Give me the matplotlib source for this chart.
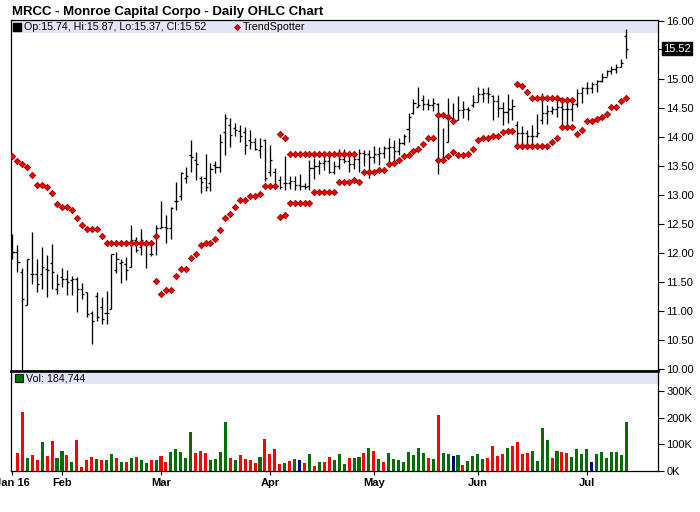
import matplotlib
matplotlib.use("Agg")
import matplotlib.pyplot as plt
from matplotlib.patches import Rectangle
import numpy as np

plt.rcParams['font.family'] = ['Liberation Sans', 'DejaVu Sans']

title = "MRCC - Monroe Capital Corpo - Daily OHLC Chart"

# daily OHLC, Jan 15 2016 .. Jul 14 2016 (one entry per trading day)
highs = [12.32, 12.14, 11.75, 11.90, 12.36, 11.90, 12.10, 11.97, 12.15, 11.64,
         11.74, 11.70, 11.60, 11.59, 11.49, 11.32, 11.00, 11.33, 11.25, 11.35,
         11.98, 12.01, 11.90, 11.93, 12.48, 12.27, 12.41, 12.20, 12.20, 12.49,
         12.90, 12.66, 12.79, 13.23, 13.40, 13.49, 13.95, 13.75, 13.33, 13.71,
         13.55, 13.59, 14.05, 14.40, 14.32, 14.25, 14.21, 14.18, 14.12, 13.98,
         13.99, 13.96, 13.86, 13.46, 13.32, 13.67, 13.32, 13.32, 13.36, 13.20,
         13.60, 13.63, 13.60, 13.72, 13.72, 13.59, 13.80, 13.79, 13.72, 13.75,
         13.80, 13.78, 13.78, 13.85, 13.82, 13.85, 13.98, 13.95, 13.98, 14.05,
         14.42, 14.65, 14.86, 14.72, 14.65, 14.67, 14.58, 14.15, 14.68, 14.58,
         14.71, 14.62, 14.51, 14.72, 14.86, 14.84, 14.87, 14.72, 14.72, 14.61,
         14.74, 14.65, 14.28, 14.19, 14.12, 14.21, 14.39, 14.75, 14.55, 14.53,
         14.68, 14.64, 14.64, 14.61, 14.83, 14.87, 14.94, 14.95, 14.98, 15.11,
         15.15, 15.22, 15.25, 15.34, 15.87]
lows = [11.89, 11.68, 9.98, 11.11, 11.47, 11.32, 11.38, 11.25, 11.38, 11.30,
        11.42, 11.27, 11.27, 10.99, 11.20, 10.90, 10.44, 10.82, 10.77, 10.77,
        11.03, 11.65, 11.49, 11.53, 11.76, 12.02, 11.97, 11.74, 11.95, 11.97,
        12.43, 12.17, 12.25, 12.74, 12.91, 13.20, 13.39, 13.26, 13.04, 13.07,
        13.07, 13.38, 13.40, 13.69, 13.83, 14.01, 13.92, 13.70, 13.79, 13.78,
        13.63, 13.25, 13.32, 13.10, 13.10, 13.09, 13.10, 13.09, 13.09, 13.10,
        13.09, 13.28, 13.36, 13.43, 13.38, 13.36, 13.44, 13.55, 13.39, 13.44,
        13.39, 13.50, 13.29, 13.55, 13.52, 13.63, 13.59, 13.55, 13.69, 13.86,
        13.92, 14.39, 14.51, 14.47, 14.47, 14.45, 13.37, 13.57, 13.92, 14.29,
        14.29, 14.32, 14.30, 14.52, 14.60, 14.60, 14.59, 14.29, 14.35, 14.21,
        14.24, 14.29, 13.80, 13.80, 13.82, 13.83, 14.00, 14.22, 14.22, 14.40,
        14.34, 14.18, 14.21, 14.27, 14.52, 14.59, 14.74, 14.75, 14.78, 14.95,
        15.05, 15.09, 15.11, 15.20, 15.37]
opens = [12.30, 12.01, 11.68, 11.11, 11.64, 11.64, 11.64, 11.73, 11.82, 11.38,
         11.59, 11.55, 11.53, 11.55, 11.38, 11.32, 10.96, 11.26, 11.07, 10.97,
         11.03, 11.71, 11.82, 11.81, 11.76, 12.22, 12.11, 12.13, 11.99, 12.28,
         12.44, 12.45, 12.44, 12.89, 12.98, 13.30, 13.69, 13.60, 13.29, 13.30,
         13.20, 13.52, 13.49, 14.09, 14.20, 14.15, 14.10, 14.09, 13.95, 13.92,
         13.78, 13.95, 13.40, 13.40, 13.26, 13.21, 13.20, 13.24, 13.17, 13.15,
         13.15, 13.46, 13.50, 13.55, 13.59, 13.40, 13.50, 13.62, 13.59, 13.53,
         13.62, 13.73, 13.71, 13.65, 13.71, 13.73, 13.81, 13.83, 13.76, 13.89,
         14.13, 14.41, 14.52, 14.63, 14.57, 14.56, 14.57, 13.60, 13.92, 14.32,
         14.30, 14.47, 14.48, 14.55, 14.61, 14.74, 14.75, 14.70, 14.62, 14.50,
         14.43, 14.49, 14.20, 14.07, 14.07, 14.02, 14.02, 14.30, 14.41, 14.45,
         14.49, 14.51, 14.48, 14.48, 14.57, 14.76, 14.84, 14.85, 14.92, 14.97,
         15.03, 15.13, 15.17, 15.21, 15.74]
closes = [12.01, 11.84, 11.20, 11.90, 11.64, 11.47, 11.76, 11.71, 11.68, 11.47,
          11.55, 11.50, 11.55, 11.38, 11.30, 10.95, 10.82, 10.90, 10.86, 10.97,
          11.98, 11.90, 11.84, 11.71, 12.22, 12.05, 12.22, 12.14, 11.99, 12.44,
          12.45, 12.43, 12.77, 12.90, 13.38, 13.33, 13.65, 13.53, 13.23, 13.14,
          13.44, 13.49, 13.91, 14.32, 14.03, 14.12, 14.01, 13.86, 13.92, 13.80,
          13.85, 13.30, 13.60, 13.16, 13.13, 13.20, 13.24, 13.17, 13.15, 13.14,
          13.46, 13.50, 13.55, 13.59, 13.39, 13.50, 13.62, 13.59, 13.53, 13.62,
          13.73, 13.71, 13.65, 13.71, 13.73, 13.81, 13.83, 13.76, 13.89, 14.02,
          14.35, 14.59, 14.55, 14.57, 14.56, 14.59, 13.60, 13.65, 14.32, 14.29,
          14.47, 14.48, 14.46, 14.61, 14.74, 14.75, 14.74, 14.62, 14.50, 14.43,
          14.49, 14.53, 14.07, 14.07, 14.02, 14.02, 14.07, 14.41, 14.45, 14.49,
          14.51, 14.48, 14.48, 14.57, 14.76, 14.84, 14.85, 14.92, 14.97, 15.03,
          15.13, 15.17, 15.21, 15.28, 15.52]

nan = float('nan')
# TrendSpotter dots above price (resistance) and below price (support)
ts_upper = ([13.68, 13.58, 13.53, 13.49, 13.34, 13.17, 13.17, 13.13, 13.03, 12.85,
             12.80, 12.80, 12.75, 12.61, 12.48, 12.42, 12.42, 12.42, 12.30]
            + [12.17] * 10 + [12.29]
            + [nan] * 24 + [14.06, 13.98] + [13.70] * 14
            + [nan] * 16 + [14.38, 14.38, 14.34, 14.28]
            + [nan] * 12 + [14.91, 14.88, 14.77] + [14.67] * 6 + [14.64] * 3
            + [nan] * 11)
ts_lower = ([nan] * 29
            + [11.51, 11.29, 11.36, 11.36, 11.60, 11.72, 11.72, 11.91, 11.99, 12.14,
               12.17, 12.17, 12.25, 12.40, 12.60, 12.67, 12.79, 12.91, 12.91, 12.98,
               12.98, 13.01, 13.15, 13.15, 13.15, 12.62, 12.65]
            + [12.86] * 5 + [13.05] * 5 + [13.22, 13.22, 13.22, 13.26, 13.22]
            + [13.39, 13.39, 13.39, 13.43, 13.43, 13.53, 13.55, 13.61, 13.67, 13.69,
               13.76, 13.79, 13.88, 13.98, 13.98, 13.60, 13.60, 13.67, 13.75, 13.69,
               13.69, 13.71, 13.80, 13.95, 13.98, 13.98, 14.02, 14.02, 14.08, 14.10,
               14.10]
            + [13.85] * 7 + [13.91, 13.99, 14.18, 14.18, 14.18]
            + [14.05, 14.12, 14.28, 14.28, 14.31, 14.34, 14.39, 14.52, 14.52, 14.62,
               14.67])

volumes = [0, 68000, 224000, 49000, 60000, 42000, 109000, 57000, 113000, 49000,
           75000, 60000, 34000, 117000, 15000, 42000, 53000, 45000, 42000, 42000,
           64000, 49000, 34000, 34000, 49000, 53000, 42000, 30000, 42000, 42000,
           57000, 34000, 72000, 83000, 72000, 49000, 147000, 68000, 75000, 68000,
           42000, 45000, 72000, 185000, 49000, 42000, 60000, 45000, 42000, 30000,
           53000, 121000, 64000, 83000, 26000, 30000, 38000, 45000, 42000, 30000,
           64000, 19000, 34000, 34000, 53000, 42000, 64000, 26000, 49000, 49000,
           53000, 68000, 87000, 75000, 45000, 34000, 68000, 45000, 42000, 34000,
           72000, 60000, 87000, 68000, 49000, 45000, 211000, 68000, 64000, 57000,
           60000, 23000, 38000, 57000, 64000, 45000, 49000, 94000, 57000, 64000,
           87000, 94000, 109000, 64000, 68000, 75000, 38000, 162000, 117000, 49000,
           75000, 72000, 68000, 53000, 83000, 64000, 83000, 34000, 64000, 72000,
           49000, 72000, 72000, 60000, 184744]
# r = down, g = up, n = unchanged, ten days per chunk
vol_dir = ("rrrgrrgrrg" "grgrrrrgrg" "grgrgrggrg" "rrgggggrrr" "ggggrgrrrr"
           "grrrrgrgnr" "grgrrgggrg" "grgrgrgggg" "ggggrgrggn" "grggggrrrr"
           "grrrrggggr" "grrggggngg" "ggggg")

month_pos = [0, 10, 30, 52, 73, 94, 116]
month_labels = ["Jan 16", "Feb", "Mar", "Apr", "May", "Jun", "Jul"]

x = np.arange(len(highs))
colors = {'r': '#FF0000', 'g': '#006E00', 'n': '#000080'}
bar_colors = [colors[c] for c in vol_dir]
band = '#E4E4F8'
red = '#EE0000'
dark_red = '#8A0000'

fig = plt.figure(figsize=(7, 5.12), dpi=100)
ax = fig.add_axes([10.5 / 700, 1 - 370.5 / 512, 647.5 / 700, 350.5 / 512])
axv = fig.add_axes([10.5 / 700, 1 - 471 / 512, 647.5 / 700, 99.5 / 512])

# price panel
ax.add_patch(Rectangle((0, 1 - 13 / 350.5), 1, 13 / 350.5, transform=ax.transAxes,
                       fc=band, ec='none', zorder=0))
ax.vlines(x, lows, highs, color='black', lw=0.95, zorder=2)
ax.hlines(opens, x - 0.42, x, color='black', lw=0.95, zorder=2)
ax.hlines(closes, x, x + 0.42, color='black', lw=0.95, zorder=2)
for ts in (ts_upper, ts_lower):
    ax.plot(x, ts, linestyle='none', marker='D', ms=3.3, mfc=red,
            mec=dark_red, mew=0.5, zorder=3)

ax.set_xlim(-0.4, 130.4)
ax.set_ylim(9.975, 16.017)
ax.set_xticks([])
ax.yaxis.tick_right()
yt = [10.0, 10.5, 11.0, 11.5, 12.0, 12.5, 13.0, 13.5, 14.0, 14.5, 15.0, 15.52, 16.0]
ax.set_yticks(yt)
ax.set_yticklabels(['' if v == 15.52 else '%.2f' % v for v in yt])
ax.tick_params(axis='y', direction='out', length=4, width=0.8, labelsize=8, pad=2)
ax.text(1.0075, closes[-1], '%.2f' % closes[-1], transform=ax.get_yaxis_transform(),
        ha='left', va='center', color='white', fontsize=8,
        bbox=dict(boxstyle='square,pad=0.12', fc='black', ec='black'))
for s in ('left', 'right', 'top'):
    ax.spines[s].set_linewidth(0.9)
ax.spines['bottom'].set_linewidth(2.0)

ax.plot([0.0102], [0.979], transform=ax.transAxes, marker='s', ms=5.2,
        color='black', clip_on=False)
ax.text(0.0215, 0.979, "Op:%.2f, Hi:%.2f, Lo:%.2f, Cl:%.2f" % (opens[-1], highs[-1], lows[-1], closes[-1]),
        transform=ax.transAxes, ha='left', va='center', fontsize=7.7)
ax.plot([0.3495], [0.979], transform=ax.transAxes, marker='D', ms=3.1,
        mfc=red, mec=dark_red, mew=0.5, clip_on=False)
ax.text(0.3585, 0.979, "TrendSpotter", transform=ax.transAxes,
        ha='left', va='center', fontsize=7.7)

# volume panel
axv.add_patch(Rectangle((0, 1 - 12.5 / 99.5), 1, 12.5 / 99.5, transform=axv.transAxes,
                        fc=band, ec='none', zorder=0))
axv.bar(x, volumes, width=0.62, color=bar_colors, zorder=2)
axv.set_xlim(-0.4, 130.4)
axv.set_ylim(0, 375000)
axv.yaxis.tick_right()
axv.set_yticks([0, 100000, 200000, 300000])
axv.set_yticklabels(['0K', '100K', '200K', '300K'])
axv.tick_params(axis='y', direction='out', length=4, width=0.8, labelsize=8, pad=2)
axv.set_xticks(month_pos)
axv.set_xticklabels(month_labels, fontweight='bold')
axv.tick_params(axis='x', direction='out', length=3, width=0.8, labelsize=8, pad=2)
for s in ('left', 'right', 'bottom'):
    axv.spines[s].set_linewidth(0.9)
axv.spines['top'].set_linewidth(1.2)

axv.plot([0.0131], [0.932], transform=axv.transAxes, marker='s', ms=5.2,
         mfc='#006E00', mec='black', mew=0.6, clip_on=False)
axv.text(0.0245, 0.932, "Vol: {:,}".format(volumes[-1]), transform=axv.transAxes,
         ha='left', va='center', fontsize=7.7)

fig.text(12 / 700, 1 - 15 / 512, title, ha='left', va='baseline',
         fontsize=9.5, fontweight='bold')

fig.savefig("out.png", dpi=100)
